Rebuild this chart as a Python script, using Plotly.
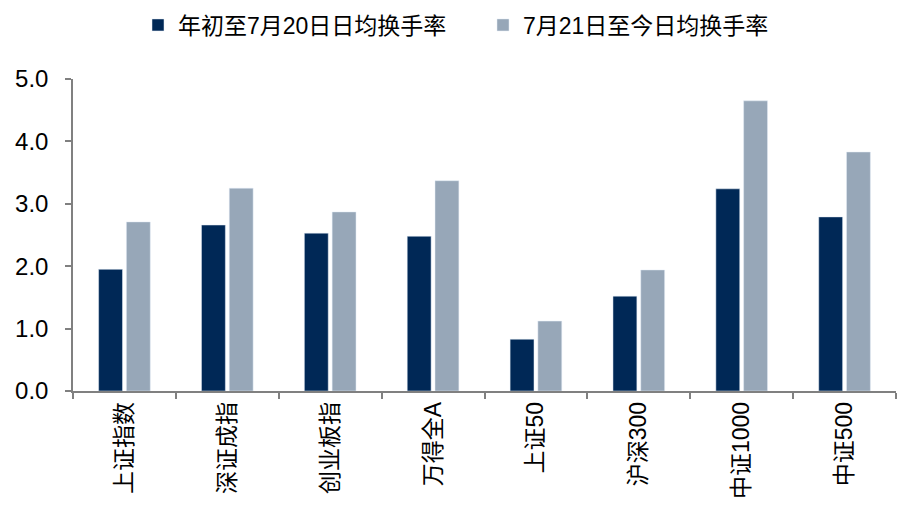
import plotly.graph_objects as go

categories = ["上证指数", "深证成指", "创业板指", "万得全A", "上证50", "沪深300", "中证1000", "中证500"]
series1_name = "年初至7月20日日均换手率"
series2_name = "7月21日至今日均换手率"
series1 = [1.95, 2.66, 2.53, 2.48, 0.83, 1.52, 3.24, 2.79]
series2 = [2.71, 3.25, 2.87, 3.37, 1.12, 1.94, 4.65, 3.83]
y_ticks = [0, 1, 2, 3, 4, 5]
y_ticklabels = ["0.0", "1.0", "2.0", "3.0", "4.0", "5.0"]

font_family = "Liberation Sans, Noto Sans CJK SC, sans-serif"

W, H = 900, 499

fig = go.Figure()
fig.add_trace(go.Bar(x=categories, y=series1, name=series1_name, marker_color="#002856"))
fig.add_trace(go.Bar(x=categories, y=series2, name=series2_name, marker_color="#97a7b8"))

fig.update_layout(
    width=W, height=H,
    margin=dict(l=65, r=12, t=71, b=116, autoexpand=False),
    paper_bgcolor="white", plot_bgcolor="white",
    barmode="group", bargap=0.46, bargroupgap=0.14,
    font=dict(family=font_family, size=22, color="black"),
    showlegend=True,
    legend=dict(orientation="h", x=130 / W, xanchor="left", xref="container",
                y=1 - 17 / H, yanchor="middle", yref="container",
                font=dict(size=23), itemwidth=30, entrywidth=300, tracegroupgap=0,
                bgcolor="rgba(0,0,0,0)"),
)
fig.update_xaxes(
    automargin=False,
    showline=True, linecolor="#808080", linewidth=1.5,
    ticks="outside", tickson="boundaries", ticklen=6, tickcolor="#808080", tickwidth=1.5,
    tickangle=-90, tickfont=dict(size=23), showgrid=False,
)
fig.update_yaxes(
    automargin=False,
    range=[0, 5], tickvals=y_ticks, ticktext=y_ticklabels,
    showline=True, linecolor="#808080", linewidth=1.5,
    ticks="outside", ticklen=6, tickcolor="#808080", tickwidth=1.5,
    tickfont=dict(size=24), ticklabelstandoff=12, showgrid=False, zeroline=False,
)

fig.write_html("out.html")
